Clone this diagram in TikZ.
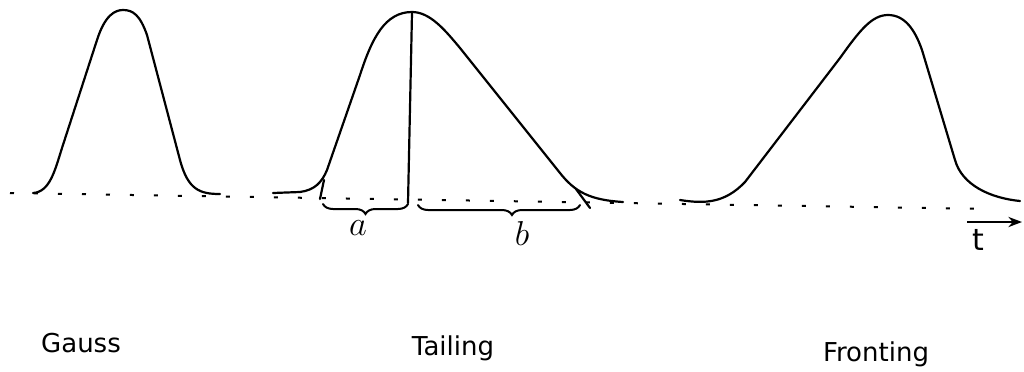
\documentclass[tikz,border=0pt]{standalone}
\usepackage{fontspec}
\setmainfont{DejaVu Sans}
\usetikzlibrary{arrows.meta, decorations.pathreplacing}
\tikzset{
  peak/.style  ={line width=1.1pt, line join=round, line cap=round},
  zeroln/.style={line width=1pt, dash pattern=on 2pt off 10pt},
  brc/.style   ={line width=1pt, line cap=round, decorate,
                 decoration={brace, mirror, amplitude=5pt}},
  title/.style ={font=\fontsize{13}{15}\selectfont, anchor=base},
  hand/.style  ={font=\fontsize{18}{20}\selectfont, anchor=base},
  timeax/.style={-{Stealth[length=2.4mm,width=1.8mm]}, line width=0.9pt}
}

\begin{document}
\begin{tikzpicture}[x=0.5pt, y=-0.5pt]
  \useasboundingbox (0,0) rectangle (1024,371);

  % zero line
  \draw[zeroln] (10,193) -- (990,209);

  % Gauss
  \draw[peak] (33,193) .. controls (50,192) and (55,170) .. (62,148)
    -- (97,40) .. controls (105,15) and (115,10) .. (123,10)
    .. controls (133,10) and (140,15) .. (147,35)
    -- (180,160) .. controls (188,190) and (200,194) .. (220,194);

  % Tailing
  \draw[peak] (273,193) -- (300,192) .. controls (315,190) and (322,182) .. (327,170)
    -- (360,75) .. controls (372,38) and (385,12) .. (412,12)
    .. controls (430,12) and (445,30) .. (460,48)
    -- (560,173) .. controls (575,192) and (590,200) .. (623,202);
  \draw[peak] (412,13) -- (408,203);
  \draw[peak] (324,180) -- (320,199);
  \draw[peak] (576,189) -- (590,208);
  \draw[brc] (323,204) -- (408,204);
  \draw[brc, decoration={aspect=0.58}] (418,205) -- (580,205);

  % Fronting
  \draw[peak] (680,200) .. controls (705,204) and (725,203) .. (745,182)
    -- (840,58) .. controls (860,30) and (872,15) .. (888,15)
    .. controls (905,15) and (915,30) .. (922,50)
    -- (955,160) .. controls (962,185) and (990,198) .. (1020,201);

  % time axis
  \coordinate (t0) at (967,222);
  \coordinate (t1) at (1022,222);
  \draw[timeax] (t0) -- (t1);

  \node[hand] (a) at (358,235) {$a$};
  \node[hand] (b) at (522,245) {$b$};
  \node[hand, font=\fontsize{15}{17}\selectfont] (t) at (978,250) {t};

  \node[title] (gauss)    at (81,352)  {Gauss};
  \node[title] (tailing)  at (453,355) {Tailing};
  \node[title] (fronting) at (876,361) {Fronting};
\end{tikzpicture}
\end{document}
